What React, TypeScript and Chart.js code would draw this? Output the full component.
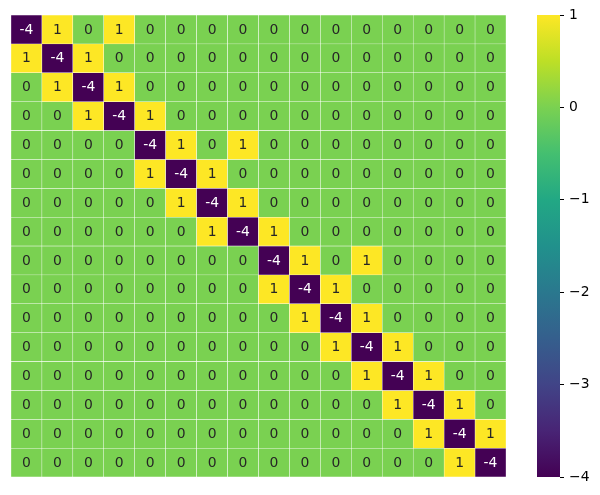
import React, { useEffect, useRef } from "react";
import { Chart, registerables } from "chart.js";

Chart.register(...registerables);

const columns: string[] = ["0", "1", "2", "3", "4", "5", "6", "7", "8", "9", "10", "11", "12", "13", "14", "15"];

const matrix: number[][] = [
  [-4, 1, 0, 1, 0, 0, 0, 0, 0, 0, 0, 0, 0, 0, 0, 0],
  [1, -4, 1, 0, 0, 0, 0, 0, 0, 0, 0, 0, 0, 0, 0, 0],
  [0, 1, -4, 1, 0, 0, 0, 0, 0, 0, 0, 0, 0, 0, 0, 0],
  [0, 0, 1, -4, 1, 0, 0, 0, 0, 0, 0, 0, 0, 0, 0, 0],
  [0, 0, 0, 0, -4, 1, 0, 1, 0, 0, 0, 0, 0, 0, 0, 0],
  [0, 0, 0, 0, 1, -4, 1, 0, 0, 0, 0, 0, 0, 0, 0, 0],
  [0, 0, 0, 0, 0, 1, -4, 1, 0, 0, 0, 0, 0, 0, 0, 0],
  [0, 0, 0, 0, 0, 0, 1, -4, 1, 0, 0, 0, 0, 0, 0, 0],
  [0, 0, 0, 0, 0, 0, 0, 0, -4, 1, 0, 1, 0, 0, 0, 0],
  [0, 0, 0, 0, 0, 0, 0, 0, 1, -4, 1, 0, 0, 0, 0, 0],
  [0, 0, 0, 0, 0, 0, 0, 0, 0, 1, -4, 1, 0, 0, 0, 0],
  [0, 0, 0, 0, 0, 0, 0, 0, 0, 0, 1, -4, 1, 0, 0, 0],
  [0, 0, 0, 0, 0, 0, 0, 0, 0, 0, 0, 1, -4, 1, 0, 0],
  [0, 0, 0, 0, 0, 0, 0, 0, 0, 0, 0, 0, 1, -4, 1, 0],
  [0, 0, 0, 0, 0, 0, 0, 0, 0, 0, 0, 0, 0, 1, -4, 1],
  [0, 0, 0, 0, 0, 0, 0, 0, 0, 0, 0, 0, 0, 0, 1, -4],
];

const colorbarTicks: number[] = [1, 0, -1, -2, -3, -4];
const vmin = -4;
const vmax = 1;

const viridisStops: string[] = [
  "#440154", "#482475", "#414487", "#355f8d", "#2a788e",
  "#21918c", "#22a884", "#44bf70", "#7ad151", "#bddf26", "#fde725",
];

function hexToRgb(h: string): number[] {
  return [parseInt(h.slice(1, 3), 16), parseInt(h.slice(3, 5), 16), parseInt(h.slice(5, 7), 16)];
}

function viridis(v: number): string {
  const t = Math.max(0, Math.min(1, (v - vmin) / (vmax - vmin)));
  const pos = t * (viridisStops.length - 1);
  const i = Math.min(viridisStops.length - 2, Math.floor(pos));
  const f = pos - i;
  const a = hexToRgb(viridisStops[i]);
  const b = hexToRgb(viridisStops[i + 1]);
  const c = a.map((x, k) => Math.round(x + (b[k] - x) * f));
  return `rgb(${c[0]},${c[1]},${c[2]})`;
}

const FONT = '"DejaVu Sans", sans-serif';

const cellLabels = {
  id: "cellLabels",
  afterDatasetsDraw(chart: any) {
    const ctx = chart.ctx;
    ctx.save();
    ctx.font = `13.9px ${FONT}`;
    ctx.textAlign = "center";
    ctx.textBaseline = "middle";
    chart.data.datasets.forEach((_ds: any, r: number) => {
      const meta = chart.getDatasetMeta(r);
      meta.data.forEach((el: any, c: number) => {
        const v = matrix[r][c];
        const p = el.getProps(["x", "y", "base"], true);
        ctx.fillStyle = v < -1.5 ? "#ffffff" : "#262626";
        ctx.fillText(String(v), p.x, (p.y + p.base) / 2 + 0.5);
      });
    });
    ctx.restore();
  },
};

export default function App() {
  const mainRef = useRef<HTMLCanvasElement | null>(null);
  const cbRef = useRef<HTMLCanvasElement | null>(null);

  useEffect(() => {
    const main = new Chart(mainRef.current as HTMLCanvasElement, {
      type: "bar",
      data: {
        labels: columns,
        datasets: matrix.map((row, r) => ({
          data: row.map(() => [r, r + 1]) as any,
          backgroundColor: row.map((v) => viridis(v)),
          borderColor: "#ffffff",
          borderWidth: 0.5,
          borderSkipped: false,
          barPercentage: 1,
          categoryPercentage: 1,
          grouped: false,
        })),
      },
      options: {
        responsive: false,
        animation: false,
        layout: { padding: { left: 11, right: 14, top: 15, bottom: 18 } },
        scales: {
          x: { display: false },
          y: { display: false, min: 0, max: 16, reverse: true },
        },
        plugins: { legend: { display: false }, tooltip: { enabled: false } },
      },
      plugins: [cellLabels],
    } as any);

    const cb = new Chart(cbRef.current as HTMLCanvasElement, {
      type: "bar",
      data: {
        labels: ["colorbar"],
        datasets: [
          {
            data: [[vmin, vmax]] as any,
            backgroundColor: (context: any) => {
              const chart = context.chart;
              const y = chart.scales && chart.scales.y;
              if (!chart.chartArea || !y) return viridisStops[0];
              const y0 = y.getPixelForValue(vmin);
              const y1 = y.getPixelForValue(vmax);
              if (!isFinite(y0) || !isFinite(y1)) return viridisStops[0];
              const g = chart.ctx.createLinearGradient(0, y0, 0, y1);
              viridisStops.forEach((s, i) => g.addColorStop(i / (viridisStops.length - 1), s));
              return g;
            },
            borderWidth: 0,
            borderSkipped: false,
            barPercentage: 1,
            categoryPercentage: 1,
          },
        ],
      },
      options: {
        responsive: false,
        animation: false,
        layout: { padding: { left: 17, right: 0, top: 15, bottom: 18 } },
        scales: {
          x: { display: false },
          y: {
            position: "right",
            min: vmin,
            max: vmax,
            afterBuildTicks: (s: any) => {
              s.ticks = colorbarTicks.map((v) => ({ value: v }));
            },
            afterFit: (s: any) => {
              s.width = 40;
            },
            grid: { drawOnChartArea: false, drawTicks: true, tickLength: 4, color: "#000", tickColor: "#000" },
            border: { display: false },
            ticks: {
              color: "#000",
              font: { family: FONT, size: 13.9 },
              padding: 5,
              callback: (v: any) => String(v).replace("-", "\u2212"),
            },
          },
        },
        plugins: { legend: { display: false }, tooltip: { enabled: false } },
      },
    } as any);

    return () => {
      main.destroy();
      cb.destroy();
    };
  }, []);

  return (
    <div style={{ position: "fixed", left: 0, top: 0, width: 600, height: 495, background: "#fff" }}>
      <canvas ref={mainRef} width={520} height={495} style={{ position: "absolute", left: 0, top: 0, width: 520, height: 495 }} />
      <canvas ref={cbRef} width={80} height={495} style={{ position: "absolute", left: 520, top: 0, width: 80, height: 495 }} />
    </div>
  );
}
